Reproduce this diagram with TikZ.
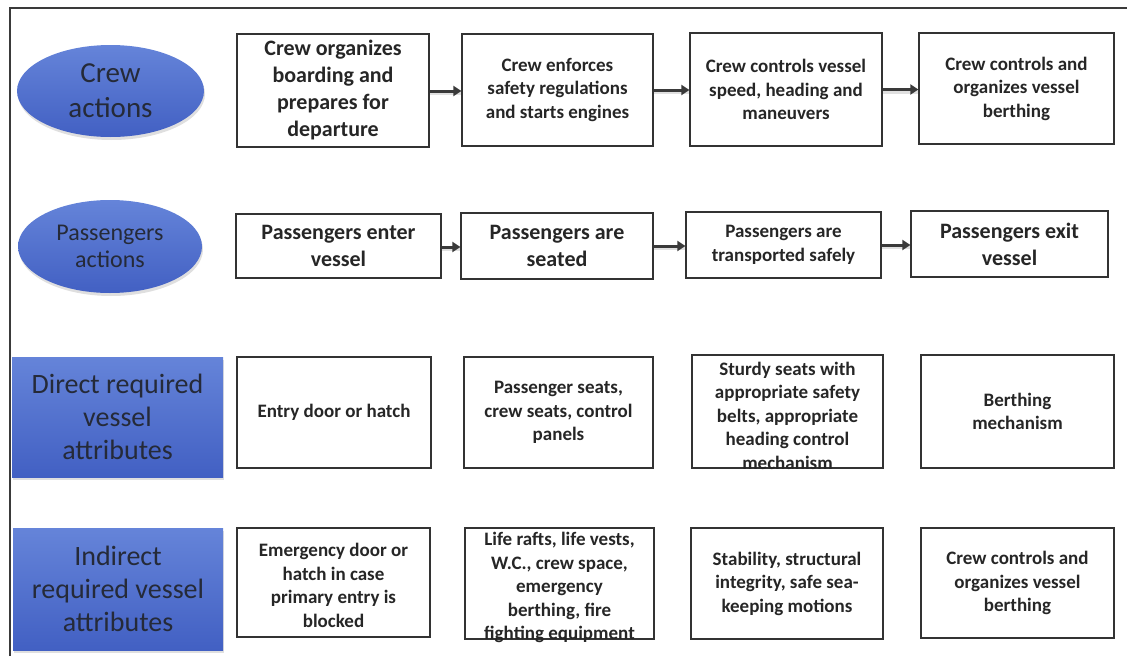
\documentclass[tikz,border=0pt]{standalone}
\usepackage{fontspec}
\setmainfont{Carlito}
\usetikzlibrary{arrows.meta,shapes.geometric,shadows}
\definecolor{boxline}{HTML}{333333}
\definecolor{boxtext}{HTML}{262626}
\definecolor{bluetop}{HTML}{6584D9}
\definecolor{bluebot}{HTML}{4260C3}
\definecolor{bluetext}{HTML}{252A38}
\definecolor{frame}{HTML}{3A3A3A}
\tikzset{
  box/.style={draw=boxline, line width=1.3pt, fill=white, inner sep=0pt},
  txt/.style={align=center, text=boxtext, inner sep=0pt, font=\bfseries\fontsize{19}{23.5}\selectfont},
  bigtxt/.style={txt, font=\bfseries\fontsize{22}{27}\selectfont},
  blueshape/.style={top color=bluetop, bottom color=bluebot, draw=none, inner sep=0pt,
     text=bluetext, align=center,
     drop shadow={opacity=0.25, shadow xshift=1pt, shadow yshift=-3pt}},
  blueell/.style={blueshape, ellipse},
  arr/.style={draw=frame, line width=3pt, -{Triangle[length=8pt,width=10pt]},
     preaction={draw=black!35, opacity=0.35, line width=5pt, -, transform canvas={yshift=-1.5pt}}}
}
\begin{document}
\begin{tikzpicture}[x=1pt,y=-1pt]
\useasboundingbox (0,0) rectangle (1127,656);
\draw[frame, line width=1.6pt] (10,656) -- (10,8) -- (1127,8);

% left labels
\node[blueell, minimum width=187pt, minimum height=92pt, font=\fontsize{29}{35}\selectfont] (e1) at (110.5,91) {Crew\\actions};
\node[blueell, minimum width=184pt, minimum height=93pt, font=\fontsize{24}{27}\selectfont] (e2) at (110,246.5) {Passengers\\actions};
\node[blueshape, minimum width=211pt, minimum height=120pt, font=\fontsize{28}{33}\selectfont] (r3) at (117.5,417) {Direct required\\vessel\\attributes};
\node[blueshape, minimum width=210pt, minimum height=122pt, font=\fontsize{28}{33}\selectfont] (r4) at (118,589) {Indirect\\required vessel\\attributes};

% row 1: crew actions
\node[box, minimum width=192pt, minimum height=113pt] (c1) at (333,90.5) {};
\node[bigtxt] (c1t) at (c1) {Crew organizes\\boarding and\\prepares for\\departure};
\node[box, minimum width=191pt, minimum height=112pt] (c2) at (557.5,90) {};
\node[txt] (c2t) at (c2) {Crew enforces\\safety regulations\\and starts engines};
\node[box, minimum width=192pt, minimum height=113pt] (c3) at (786,89.5) {};
\node[txt] (c3t) at (c3) {Crew controls vessel\\speed, heading and\\maneuvers};
\node[box, minimum width=195pt, minimum height=111pt] (c4) at (1016.5,88.5) {};
\node[txt] (c4t) at (c4) {Crew controls and\\organizes vessel\\berthing};

% row 2: passengers actions
\node[box, minimum width=205pt, minimum height=64pt] (p1) at (338.5,246) {};
\node[bigtxt] (p1t) at (p1) {Passengers enter\\vessel};
\node[box, minimum width=192pt, minimum height=66pt] (p2) at (557,246) {};
\node[bigtxt] (p2t) at (p2) {Passengers are\\seated};
\node[box, minimum width=195pt, minimum height=66pt] (p3) at (783.5,245) {};
\node[txt] (p3t) at (p3) {Passengers are\\transported safely};
\node[box, minimum width=197pt, minimum height=66pt] (p4) at (1009.5,244) {};
\node[bigtxt] (p4t) at (p4) {Passengers exit\\vessel};

% row 3: direct attributes
\node[box, minimum width=194pt, minimum height=111pt] (d1) at (334,412.5) {};
\node[txt] (d1t) at (d1) {Entry door or hatch};
\node[box, minimum width=189pt, minimum height=111pt] (d2) at (558.5,412.5) {};
\node[txt] (d2t) at (d2) {Passenger seats,\\crew seats, control\\panels};
\node[box, minimum width=191pt, minimum height=113pt] (d3) at (787.5,411.5) {};
\node[txt] (d3t) at ([yshift=-4pt]d3.center) {Sturdy seats with\\appropriate safety\\belts, appropriate\\heading control\\mechanism};
\node[box, minimum width=193pt, minimum height=113pt] (d4) at (1017.5,411.5) {};
\node[txt] (d4t) at (d4) {Berthing\\mechanism};

% row 4: indirect attributes
\node[box, minimum width=193pt, minimum height=109pt] (i1) at (333.5,582.5) {};
\node[txt] (i1t) at ([yshift=-3pt]i1.center) {Emergency door or\\hatch in case\\primary entry is\\blocked};
\node[box, minimum width=189pt, minimum height=111pt] (i2) at (559.5,583.5) {};
\node[txt] (i2t) at ([yshift=-4pt]i2.center) {Life rafts, life vests,\\W.C., crew space,\\emergency\\berthing, fire\\fighting equipment};
\node[box, minimum width=192pt, minimum height=111pt] (i3) at (787,583.5) {};
\node[txt] (i3t) at (i3) {Stability, structural\\integrity, safe sea-\\keeping motions};
\node[box, minimum width=193pt, minimum height=110pt] (i4) at (1017.5,583) {};
\node[txt] (i4t) at (i4) {Crew controls and\\organizes vessel\\berthing};

% arrows
\draw[arr] ([yshift=-0.5pt]c1.east) -- ([yshift=-0.5pt]c1.east -| c2.west);
\draw[arr] (c2.east) -- (c2.east -| c3.west);
\draw[arr] (c3.east) -- (c3.east -| c4.west);
\draw[arr] ([yshift=-1pt]p1.east) -- ([yshift=-1pt]p1.east -| p2.west);
\draw[arr] (p2.east) -- (p2.east -| p3.west);
\draw[arr] (p3.east) -- (p3.east -| p4.west);
\end{tikzpicture}
\end{document}
